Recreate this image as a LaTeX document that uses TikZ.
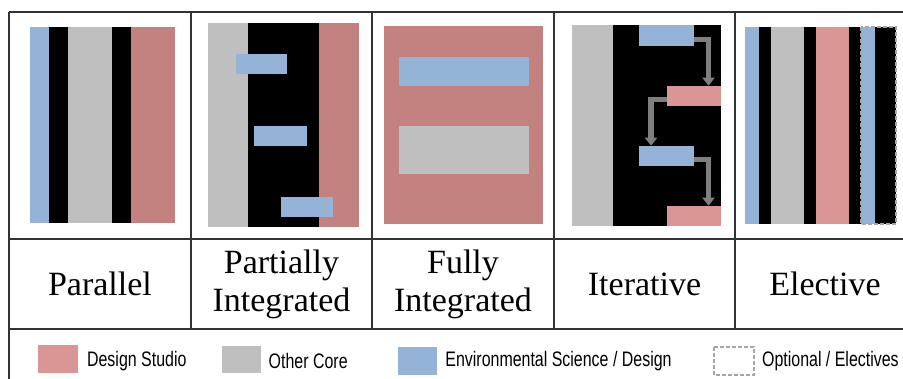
\documentclass[tikz,border=0pt]{standalone}
\usepackage{fontspec}
\setmainfont{Liberation Serif}
\newfontfamily\legendfont[FakeStretch=0.76]{Liberation Sans}
\usetikzlibrary{arrows.meta}

\definecolor{envblue}{HTML}{95B3D7}
\definecolor{coregray}{HTML}{BFBFBF}
\definecolor{studiored}{HTML}{C3817F}
\definecolor{studiolight}{HTML}{D99694}
\definecolor{gridline}{HTML}{333333}
\definecolor{flowgray}{HTML}{7F7F7F}

\begin{document}
\begin{tikzpicture}[x=0.5pt, y=-0.5pt,
  grid/.style={draw=gridline, line width=1pt},
  block/.style={draw=none, inner sep=0pt, outer sep=0pt, anchor=north west},
  flow/.style={draw=flowgray, line width=2.6pt, -{Triangle[length=4pt, width=6pt]}},
  model/.style={font=\fontsize{17}{19}\selectfont, align=center},
  key/.style={font=\legendfont\fontsize{10.5}{12}\selectfont, anchor=west, inner sep=0pt},
  optional/.style={draw=gray!70, line width=0.6pt, dash pattern=on 2pt off 1pt}]

  \useasboundingbox (0,0) rectangle (903,379);

  % -- Parallel --
  \fill[envblue] (30,27) rectangle (49,223);
  \fill[black] (49,27) rectangle (68,223);
  \fill[coregray] (68,27) rectangle (112,223);
  \fill[black] (112,27) rectangle (131,223);
  \fill[studiored] (131,27) rectangle (175,223);

  % -- Partially integrated --
  \fill[coregray] (208,23) rectangle (248,227);
  \fill[black] (248,23) rectangle (319,227);
  \fill[studiored] (319,23) rectangle (359,227);
  \fill[envblue] (236,54) rectangle (287,74);
  \fill[envblue] (254,126) rectangle (307,146);
  \fill[envblue] (281,197) rectangle (333,217);

  % -- Fully integrated --
  \fill[studiored] (384,26) rectangle (543,224);
  \fill[envblue] (399,57) rectangle (529,86);
  \fill[coregray] (399,126) rectangle (529,174);

  % -- Iterative --
  \fill[coregray] (572,25) rectangle (613,226);
  \fill[black] (613,25) rectangle (721,226);
  \node[block, fill=envblue, minimum width=27.35pt, minimum height=10.35pt] (itEnvA) at (639.3,25) {};
  \node[block, fill=studiolight, minimum width=27pt, minimum height=10pt] (itStudioA) at (666.7,85.7) {};
  \node[block, fill=envblue, minimum width=27.35pt, minimum height=10pt] (itEnvB) at (639.3,145.7) {};
  \node[block, fill=studiolight, minimum width=27pt, minimum height=10pt] (itStudioB) at (666.7,205.7) {};
  \draw[flow] ([yshift=-2pt]itEnvA.east) -| ([xshift=7.4pt]itStudioA.north);
  \draw[flow] ([yshift=-2pt]itStudioA.west) -| ([xshift=-7.8pt]itEnvB.north);
  \draw[flow] ([yshift=-2pt]itEnvB.east) -| ([xshift=7.4pt]itStudioB.north);

  % -- Elective --
  \fill[black] (745,27) rectangle (896,224);
  \fill[envblue] (745,27) rectangle (759,224);
  \fill[coregray] (771,27) rectangle (804,224);
  \fill[studiolight] (816,27) rectangle (849,224);
  \fill[envblue] (861,27) rectangle (875,224);
  \draw[optional] (861,27) rectangle (896,224);

  % -- Table rules --
  \draw[grid] (9,12.5) -- (903,12.5);
  \draw[grid] (9,239) -- (903,239);
  \draw[grid] (9,328.5) -- (903,328.5);
  \draw[grid] (9,12.5) -- (9,379);
  \draw[grid] (191,12.5) -- (191,328.5);
  \draw[grid] (372,12.5) -- (372,328.5);
  \draw[grid] (554,12.5) -- (554,328.5);
  \draw[grid] (735,12.5) -- (735,328.5);

  % -- Model names --
  \node[model] (parallel) at (100,284) {Parallel};
  \node[model] (partial) at (281.5,284) {Partially\\Integrated};
  \node[model] (full) at (463,284) {Fully\\Integrated};
  \node[model] (iterative) at (644.5,284) {Iterative};
  \node[model] (elective) at (825,284) {Elective};

  % -- Legend --
  \fill[studiolight] (38,345) rectangle (78,373);
  \node[key] (keyStudio) at (86.7,361) {Design Studio};
  \fill[coregray] (222,346) rectangle (261,373);
  \node[key] (keyCore) at (268.3,361) {Other Core};
  \fill[envblue] (398,347) rectangle (437,375);
  \node[key] (keyEnv) at (445,361) {Environmental Science / Design};
  \draw[optional] (714,347) rectangle (754,375);
  \node[key] (keyOptional) at (761.7,361) {Optional / Electives};

\end{tikzpicture}
\end{document}
